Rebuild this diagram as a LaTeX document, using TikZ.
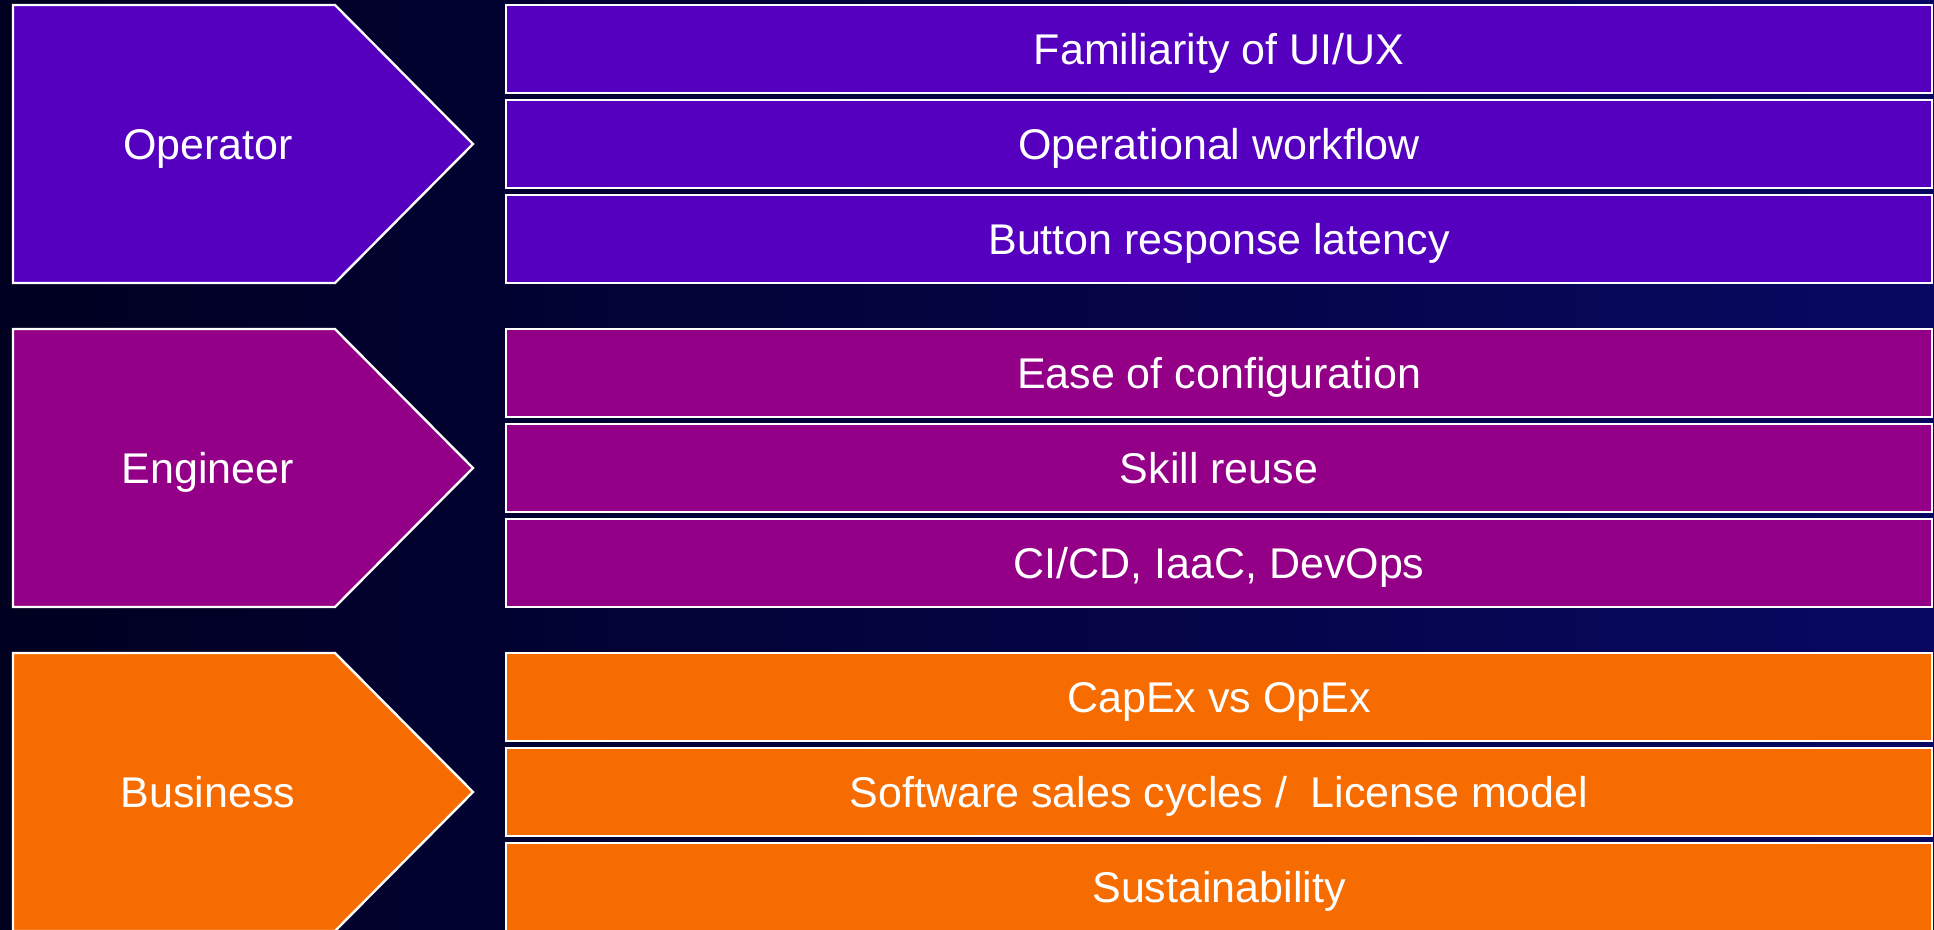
\documentclass[tikz,border=0pt]{standalone}
\usepackage{fontspec}
\setmainfont{Liberation Sans}
\usepackage{xcolor}
\usepackage{tikz}
\usetikzlibrary{positioning}

\definecolor{bgdark}{RGB}{0,0,32}
\definecolor{bglight}{RGB}{8,8,98}
\definecolor{opcol}{RGB}{85,0,191}
\definecolor{engcol}{RGB}{147,0,135}
\definecolor{buscol}{RGB}{246,108,0}

\tikzset{
    chev/.style={draw=white, line width=1.2pt, line join=miter},
    role/.style={text=white, font=\fontsize{21.5}{26}\selectfont, inner sep=0pt, text height=15.4pt, text depth=0pt},
    item/.style={draw=white, line width=1.2pt, minimum width=713pt, minimum height=44pt, inner sep=0pt, outer sep=0pt,
                 text=white, font=\fontsize{21.5}{26}\selectfont, text height=15.4pt, text depth=0pt}
}

\begin{document}
\begin{tikzpicture}[x=0.5pt, y=-0.5pt]
    % Background
    \useasboundingbox (0,0) rectangle (1934,930);
    \shade[left color=bgdark, right color=bglight] (0,0) rectangle (1934,930);

    % Operator
    \draw[chev, fill=opcol] (13,5) -- (335,5) -- (473,144) -- (335,283) -- (13,283) -- cycle;
    \node[role] (op) at (208,144) {Operator};
    \node[item, fill=opcol] (ux) at (1219,49) {Familiarity of UI/UX};
    \node[item, fill=opcol, below=3.5pt of ux] (flow) {Operational workflow};
    \node[item, fill=opcol, below=3.5pt of flow] (lat) {Button response latency};

    % Engineer
    \draw[chev, fill=engcol] (13,329) -- (335,329) -- (473,468) -- (335,607) -- (13,607) -- cycle;
    \node[role] (eng) at (208,468) {Engineer};
    \node[item, fill=engcol] (conf) at (1219,373) {Ease of configuration};
    \node[item, fill=engcol, below=3.5pt of conf] (skill) {Skill reuse};
    \node[item, fill=engcol, below=3.5pt of skill] (cicd) {CI/CD, IaaC, DevOps};

    % Business
    \draw[chev, fill=buscol] (13,653) -- (335,653) -- (473,792) -- (335,931) -- (13,931) -- cycle;
    \node[role] (bus) at (208,792) {Business};
    \node[item, fill=buscol] (capex) at (1219,697) {CapEx vs OpEx};
    \node[item, fill=buscol, below=3.5pt of capex] (sales) {Software sales cycles / \ License model};
    \node[item, fill=buscol, below=3.5pt of sales] (sust) {Sustainability};
\end{tikzpicture}
\end{document}
